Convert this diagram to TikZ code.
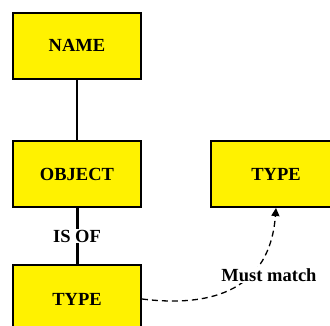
\documentclass[tikz,border=0pt]{standalone}
\usepackage{fontspec}
\setmainfont{Liberation Serif}
\usetikzlibrary{arrows.meta}
\tikzset{
  ent/.style={draw=black, line width=2pt, fill=yellow, minimum width=128pt, minimum height=66pt, inner sep=0pt, font=\fontsize{18.5}{20}\selectfont\bfseries},
  lbl/.style={fill=white, inner sep=1pt, font=\fontsize{18.5}{20}\selectfont\bfseries},
}
\begin{document}
\begin{tikzpicture}[x=1pt,y=-1pt]
\useasboundingbox (0,0) rectangle (330,325);
\node[ent] (name) at (77,45.5) {NAME};
\node[ent] (object) at (77,174) {OBJECT};
\node[ent, minimum width=130pt] (type2) at (276,174) {TYPE};
\node[ent, minimum height=68pt] (type1) at (77,299) {TYPE};
\draw[line width=1.3pt] (name) -- (object);
\draw[line width=3pt] (object) -- node[lbl] (isof) {IS OF} (type1);
\draw[line width=1.3pt, dash pattern=on 6pt off 4pt, -{Triangle[width=8pt,length=8pt]}]
  (type1.east) .. controls (215,308) and (270,288) .. (type2.south);
\node[lbl] (must) at (269,275) {Must match};
\end{tikzpicture}
\end{document}
